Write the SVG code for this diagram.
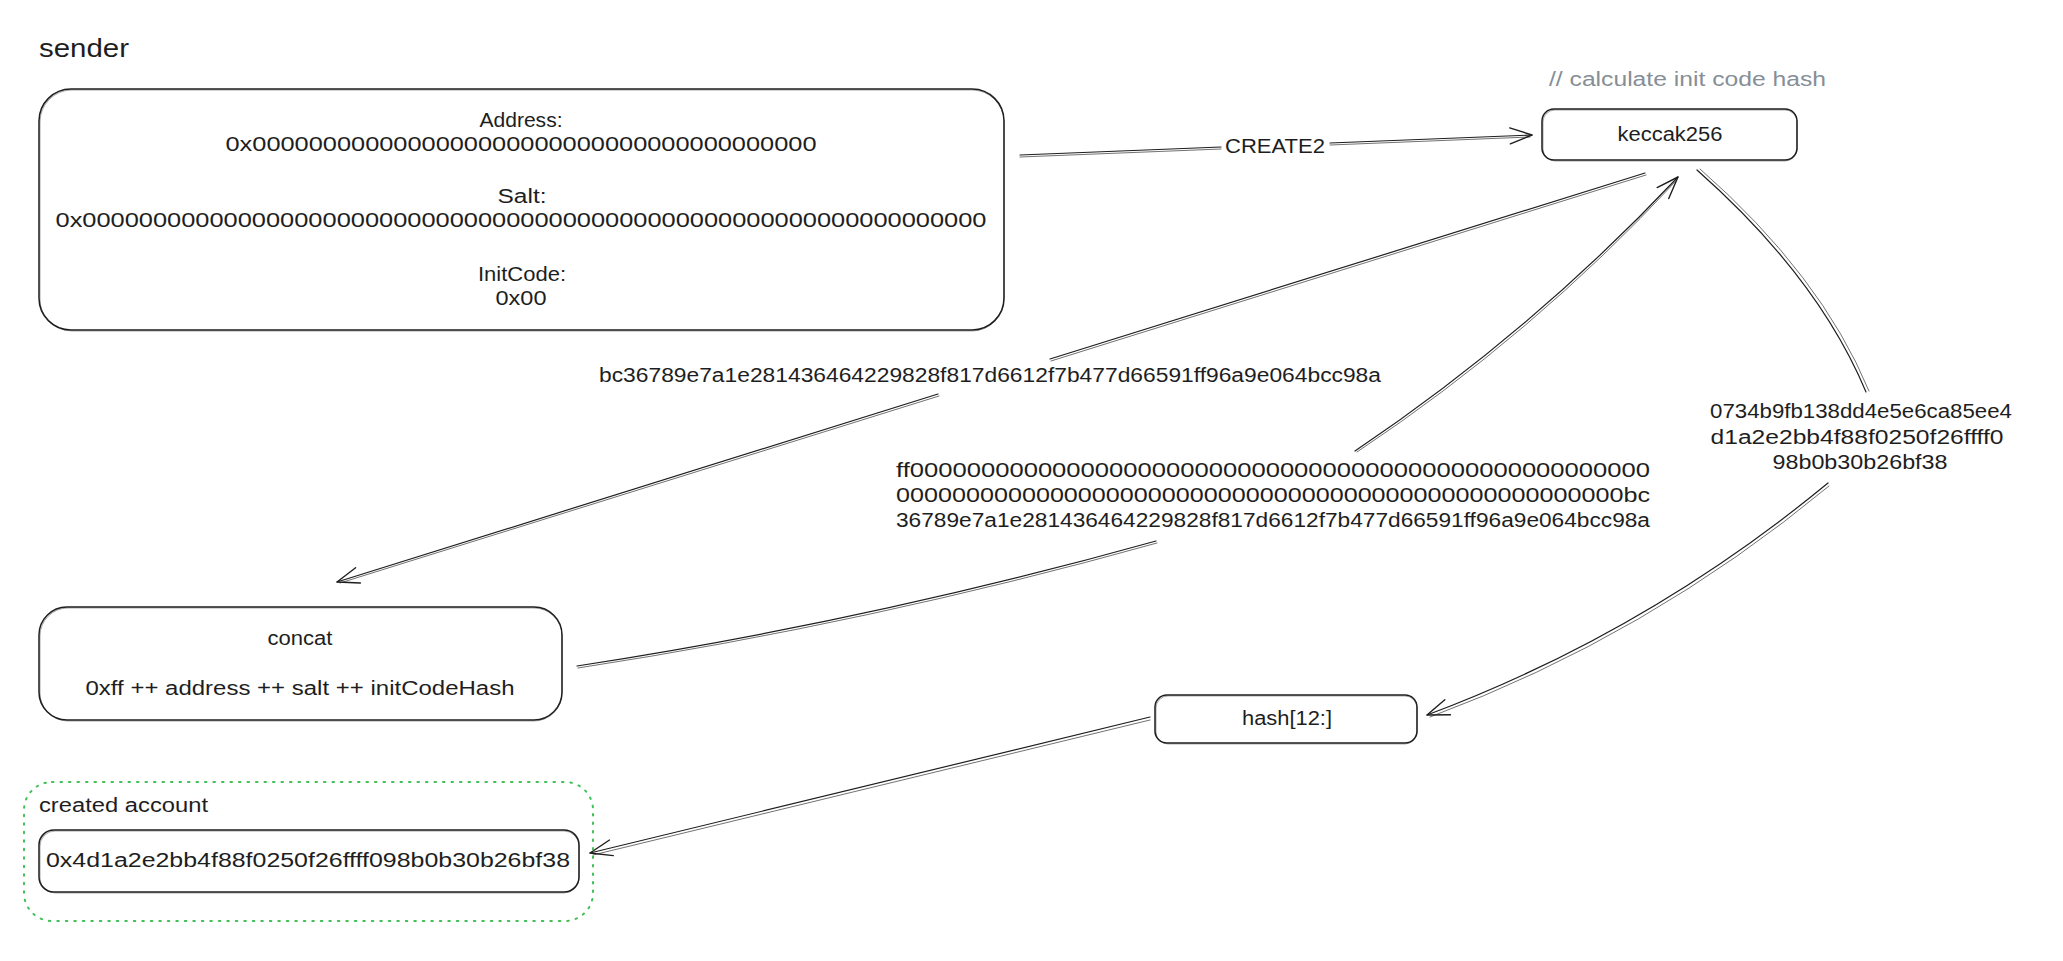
<svg xmlns="http://www.w3.org/2000/svg" width="2063" height="961" viewBox="0 0 2063 961">
<defs>
<style>
text{font-family:"Liberation Sans","DejaVu Sans",sans-serif;font-size:20px;fill:#1e1e1e}
.m{text-anchor:middle}
.box{fill:#fff;stroke:#1e1e1e;stroke-width:1.5}
.box2{fill:none;stroke:#1e1e1e;stroke-width:0.7;opacity:0.55}
.frame{fill:none;stroke:#40c057;stroke-width:2;stroke-dasharray:1.5 7;stroke-linecap:round}
.c{fill:none;stroke:#1e1e1e;stroke-width:1.2;stroke-linecap:round}
.c2{fill:none;stroke:#1e1e1e;stroke-width:0.9;opacity:0.7;stroke-linecap:round}
.note{fill:#868e96}
</style>
<marker id="ah" markerUnits="userSpaceOnUse" markerWidth="26" markerHeight="20" refX="23" refY="9" orient="auto" viewBox="0 0 26 20">
<path d="M1,1 L23,9 L1,17" fill="none" stroke="#1e1e1e" stroke-width="1.4" stroke-linecap="round" stroke-linejoin="round"/>
</marker>
</defs>
<rect width="2063" height="961" fill="#fff"/>

<g id="connectors">
<path class="c" d="M1020,155 L1221,147 M1330,143 L1532,135" marker-end="url(#ah)"/>
<path class="c2" d="M1020,157 L1221,149 M1330,145 L1530,137"/>
<path class="c" d="M1645,173 L1050,359 M938,394 L337,582" marker-end="url(#ah)"/>
<path class="c2" d="M1646,175 L1051,361 M939,396 L340,583"/>
<path class="c" d="M577,666 Q870,621 1156,541 M1355,451 Q1532,332 1678,177" marker-end="url(#ah)"/>
<path class="c2" d="M578,668 Q871,623 1157,543 M1357,452 Q1534,334 1676,181"/>
<path class="c" d="M1697,170 Q1818,277 1866,392 M1828,483 Q1646,633 1427,715" marker-end="url(#ah)"/>
<path class="c2" d="M1700,169 Q1821,275 1869,391 M1829,486 Q1648,636 1430,717"/>
<path class="c" d="M1150,717 L590,853" marker-end="url(#ah)"/>
<path class="c2" d="M1150,720 L593,855"/>
<text class="m" x="1275" y="153" textLength="100" lengthAdjust="spacingAndGlyphs">CREATE2</text>
<text class="m" x="990" y="382" textLength="782" lengthAdjust="spacingAndGlyphs">bc36789e7a1e281436464229828f817d6612f7b477d66591ff96a9e064bcc98a</text>
<text class="m" x="1273" y="477" textLength="754" lengthAdjust="spacingAndGlyphs">ff0000000000000000000000000000000000000000000000000000</text>
<text class="m" x="1273" y="502" textLength="754" lengthAdjust="spacingAndGlyphs">0000000000000000000000000000000000000000000000000000bc</text>
<text class="m" x="1273" y="527" textLength="754" lengthAdjust="spacingAndGlyphs">36789e7a1e281436464229828f817d6612f7b477d66591ff96a9e064bcc98a</text>
<text class="m" x="1861" y="418" textLength="302" lengthAdjust="spacingAndGlyphs">0734b9fb138dd4e5e6ca85ee4</text>
<text class="m" x="1857" y="444" textLength="293" lengthAdjust="spacingAndGlyphs">d1a2e2bb4f88f0250f26ffff0</text>
<text class="m" x="1860" y="469" textLength="175" lengthAdjust="spacingAndGlyphs">98b0b30b26bf38</text>
</g>

<g id="sender">
<text x="39" y="57" style="font-size:26px" textLength="90" lengthAdjust="spacingAndGlyphs">sender</text>
<rect class="box" x="39" y="89" width="965" height="241" rx="32"/>
<rect class="box2" x="40" y="90" width="964" height="241" rx="32"/>
<text class="m" x="521" y="127" textLength="83" lengthAdjust="spacingAndGlyphs">Address:</text>
<text class="m" x="521" y="151" textLength="591" lengthAdjust="spacingAndGlyphs">0x0000000000000000000000000000000000000000</text>
<text class="m" x="522" y="203" textLength="49" lengthAdjust="spacingAndGlyphs">Salt:</text>
<text class="m" x="521" y="227" textLength="931" lengthAdjust="spacingAndGlyphs">0x0000000000000000000000000000000000000000000000000000000000000000</text>
<text class="m" x="522" y="281" textLength="88" lengthAdjust="spacingAndGlyphs">InitCode:</text>
<text class="m" x="521" y="305" textLength="51" lengthAdjust="spacingAndGlyphs">0x00</text>
</g>

<g id="keccak256">
<text class="note" x="1549" y="86" textLength="277" lengthAdjust="spacingAndGlyphs">// calculate init code hash</text>
<rect class="box" x="1542" y="109" width="255" height="51" rx="12"/>
<rect class="box2" x="1543" y="110" width="254" height="51" rx="12"/>
<text class="m" x="1670" y="141" textLength="105" lengthAdjust="spacingAndGlyphs">keccak256</text>
</g>

<g id="concat">
<rect class="box" x="39" y="607" width="523" height="113" rx="28"/>
<rect class="box2" x="40" y="608" width="522" height="113" rx="28"/>
<text class="m" x="300" y="645" textLength="65" lengthAdjust="spacingAndGlyphs">concat</text>
<text class="m" x="300" y="695" textLength="429" lengthAdjust="spacingAndGlyphs">0xff ++ address ++ salt ++ initCodeHash</text>
</g>

<g id="hash">
<rect class="box" x="1155" y="695" width="262" height="48" rx="12"/>
<rect class="box2" x="1156" y="696" width="261" height="48" rx="12"/>
<text class="m" x="1287" y="725" textLength="90" lengthAdjust="spacingAndGlyphs">hash[12:]</text>
</g>

<g id="created-account">
<rect class="frame" x="24" y="782" width="569" height="139" rx="28"/>
<text x="39" y="812" textLength="169" lengthAdjust="spacingAndGlyphs">created account</text>
<rect class="box" x="39" y="830" width="540" height="62" rx="15"/>
<rect class="box2" x="40" y="831" width="539" height="62" rx="15"/>
<text class="m" x="308" y="867" textLength="524" lengthAdjust="spacingAndGlyphs">0x4d1a2e2bb4f88f0250f26ffff098b0b30b26bf38</text>
</g>
</svg>
